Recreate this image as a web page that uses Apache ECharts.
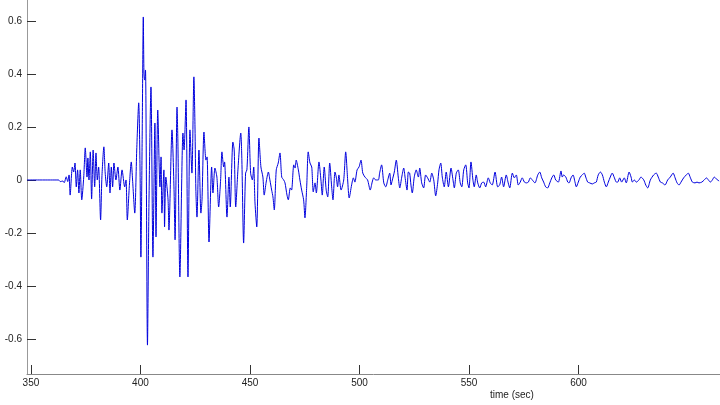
<!DOCTYPE html>
<html>
<head>
<meta charset="utf-8">
<script src="https://cdn.jsdelivr.net/npm/echarts@6/dist/echarts.min.js"></script>
<style>html,body{margin:0;padding:0;background:#fff}#c{width:720px;height:405px}</style>
</head>
<body>
<div id="c"></div>
<script>
var xTicks = [350, 400, 450, 500, 550, 600];
var yTicks = [-0.6, -0.4, -0.2, 0, 0.2, 0.4, 0.6];
var xLabel = 'time (sec)';
var times = [348.2,362.6,363.4,364.6,365.2,366.1,366.8,367.4,367.9,368.9,369.5,370.1,370.7,371.3,371.9,372.5,373.2,374.1,374.8,375.6,376.0,376.5,377.1,377.7,378.4,379.1,379.7,380.3,380.9,381.8,382.4,383.3,383.9,384.6,385.5,386.1,386.7,387.3,387.9,388.8,389.7,390.6,391.6,392.8,393.4,394.0,394.9,395.8,396.4,397.4,398.3,399.2,399.8,400.2,400.8,401.3,401.6,401.9,402.3,403.2,403.9,404.8,405.7,406.6,407.1,407.9,408.9,409.4,409.8,410.7,411.0,411.6,412.6,413.0,414.4,415.3,415.8,416.7,417.1,418.0,419.4,419.9,420.8,421.7,422.6,423.5,424.4,424.9,425.3,425.8,426.7,427.6,428.1,429.0,429.9,430.4,431.3,432.5,433.1,434.0,434.9,435.7,436.6,437.2,438.0,438.4,439.5,440.4,441.0,442.2,442.8,443.5,444.5,445.8,446.3,447.1,448.0,448.6,449.5,450.3,451.1,451.7,452.3,453.1,454.1,455.0,455.9,456.5,457.4,458.4,459.1,459.9,460.5,461.1,462.0,462.9,463.7,464.5,465.4,466.0,466.9,467.5,468.4,469.0,470.0,470.6,471.1,472.1,472.8,473.6,474.5,475.1,475.9,476.6,477.4,478.2,478.9,479.7,480.3,481.5,482.4,483.0,483.9,484.8,485.5,486.4,487.3,487.9,488.8,489.4,490.0,490.6,491.6,492.8,493.7,494.6,495.3,496.4,497.2,497.9,498.9,499.8,500.7,501.5,502.5,503.7,504.9,505.8,506.5,507.4,508.6,509.2,510.1,511.1,512.0,512.9,513.8,514.4,515.0,515.9,516.8,517.7,518.4,519.3,520.2,520.8,521.7,522.3,522.9,523.5,524.1,525.0,525.9,526.9,527.5,528.4,529.3,530.2,531.1,532.1,533.0,533.9,534.8,535.7,536.3,537.1,537.8,538.7,539.6,540.6,541.8,542.7,543.3,544.2,545.1,546.0,546.7,547.6,548.5,549.4,550.0,550.9,551.8,552.4,553.3,554.0,554.9,555.8,556.7,557.6,558.8,559.7,560.6,561.9,563.1,564.0,564.9,565.8,567.0,567.9,568.6,569.8,570.7,571.6,572.5,573.4,574.3,575.3,576.2,577.1,578.0,578.9,580.1,581.4,582.3,583.2,584.1,585.0,585.9,586.9,587.8,588.7,589.6,590.8,592.0,592.6,593.2,594.2,595.1,595.7,596.6,597.5,598.4,599.0,599.9,600.8,601.7,602.6,603.3,604.2,605.1,606.3,607.2,608.1,609.0,610.0,610.9,611.8,612.7,613.6,614.5,615.4,616.4,617.3,617.9,618.8,619.7,620.9,621.8,623.1,624.0,624.6,625.5,626.4,627.6,628.5,629.8,630.7,631.6,632.8,634.3,635.5,636.4,637.4,638.3,639.5,640.7,641.9,643.2,644.1,645.0,645.9,646.8,648.0,649.2,650.1,651.1,652.0,653.2,654.1,655.0,656.3,657.4,658.4,659.3,660.2,661.1,662.0,662.9,664.2];
var amps = [0,0,-0.006,-0.004,-0.010,0.012,-0.006,0.019,-0.057,0.049,0.030,0.064,-0.026,0.038,-0.049,0.038,-0.075,0.011,0.121,0.011,0.083,0,0.106,-0.072,0.113,-0.026,0.102,0,0.049,-0.151,0.011,0.125,0.026,-0.026,0.064,-0.049,0.049,-0.026,0.064,0,0.049,-0.038,0.038,-0.026,0,-0.151,-0.026,0.068,0,-0.125,0.113,0.291,0.049,-0.291,0.177,0.615,0.40,0.377,0.415,-0.623,-0.075,0.351,-0.291,0.215,-0.215,0.264,-0.026,0.087,-0.125,0.038,-0.177,0.011,-0.075,-0.189,0.189,-0.026,-0.226,0.275,0.140,-0.366,0.177,0.113,0.302,-0.366,0.189,0.026,0.389,0.200,-0.038,-0.140,0.113,-0.125,-0.075,0.181,0.075,0.087,-0.234,0.049,-0.049,0.045,0.011,-0.102,0,0.106,0.049,0.068,-0.140,0.011,-0.102,0.143,0.113,-0.102,0.038,0.177,0.075,-0.238,0.026,0.038,0.200,0.026,0,0.049,-0.087,-0.177,0.158,0.049,0.011,-0.057,-0.008,0.030,0,-0.038,-0.064,-0.113,0.038,0.064,0.102,0.011,0,-0.011,-0.057,-0.075,-0.030,-0.038,0.057,0.045,0.075,0.038,0,-0.038,-0.075,-0.143,-0.026,0.106,0.064,0.049,-0.045,-0.011,-0.049,0.068,0,-0.057,0.049,-0.038,-0.064,0.064,-0.026,-0.075,0.030,0.011,-0.026,0.019,-0.038,0,0.106,0,-0.068,-0.019,0.008,-0.008,0.038,0.049,0.075,0.026,0.011,0,-0.038,-0.008,0.008,0,0,0.026,0.057,-0.011,-0.026,0,0.026,-0.019,0,0.030,0.075,0.011,-0.030,0.011,0.045,0.011,-0.038,0.030,0.026,-0.019,-0.049,0.011,0.038,0.011,0.045,-0.011,-0.030,0.019,0.008,-0.008,0.026,0,-0.060,-0.011,0.038,0.064,0.011,-0.026,0.030,-0.026,0.045,0,-0.030,0.026,0.038,-0.011,-0.026,0.038,0.057,-0.011,-0.030,0.068,0,-0.026,0.019,-0.011,-0.030,-0.011,-0.008,-0.026,0.008,-0.011,-0.019,0.030,-0.026,-0.019,0.011,-0.026,0.019,-0.011,-0.030,0.026,0.008,0.019,-0.019,-0.008,0.008,-0.008,-0.011,-0.008,0.008,0,-0.011,0.019,0.030,0.008,-0.008,-0.026,-0.030,-0.011,0.008,0.019,0,-0.008,0.034,0.011,0.019,0.011,-0.008,-0.011,0.008,0.019,-0.008,-0.026,-0.008,0.011,0.019,0.026,0.011,-0.008,-0.011,-0.015,-0.011,-0.008,0.019,0.030,0.019,-0.008,-0.026,-0.008,0.011,0.026,0.008,-0.008,-0.008,0.008,-0.008,0.008,-0.011,0.030,0.011,-0.008,0,-0.008,0,0.011,0,-0.019,-0.030,0,0.019,0.026,0.011,-0.008,-0.011,-0.019,0,0.011,0.026,0.008,-0.011,-0.019,-0.008,0.008,0.019,0.026,0.008,-0.008,-0.011,-0.008,-0.011,-0.008,0,0.008,0,-0.008,0,0.011,0.004,-0.004];

var data = times.map(function (t, i) { return [t, amps[i]]; });
var chart = echarts.init(document.getElementById('c'), null, {renderer: 'canvas'});
var labelFont = {fontFamily: 'Liberation Sans, Arial, sans-serif', fontSize: 10, color: '#222'};
chart.setOption({
  animation: false,
  backgroundColor: '#fff',
  title: {
    text: xLabel, left: 485, top: 385,
    textStyle: {fontFamily: 'Liberation Sans, Arial, sans-serif', fontSize: 10, fontWeight: 'normal', color: '#222'}
  },
  grid: {left: 27, right: 0, top: 0, bottom: 31, containLabel: false},
  xAxis: {
    type: 'value', min: 348.2, max: 664.6,
    axisLine: {show: true, onZero: false, lineStyle: {color: '#888', width: 1}},
    axisTick: {show: true, inside: true, length: 9, customValues: xTicks, lineStyle: {color: '#333'}},
    axisLabel: Object.assign({customValues: xTicks, margin: 4}, labelFont),
    splitLine: {show: false}
  },
  yAxis: {
    type: 'value', min: -0.732, max: 0.679,
    axisLine: {show: true, onZero: false, lineStyle: {color: '#999', width: 1}},
    axisTick: {show: true, inside: true, length: 9, customValues: yTicks, lineStyle: {color: '#333'}},
    axisLabel: Object.assign({customValues: yTicks, margin: 5}, labelFont),
    splitLine: {show: false}
  },
  series: [{
    type: 'line', data: data, showSymbol: false, smooth: 0.25,
    lineStyle: {color: '#0000dd', width: 1}, clip: true
  }]
});
</script>
</body>
</html>
